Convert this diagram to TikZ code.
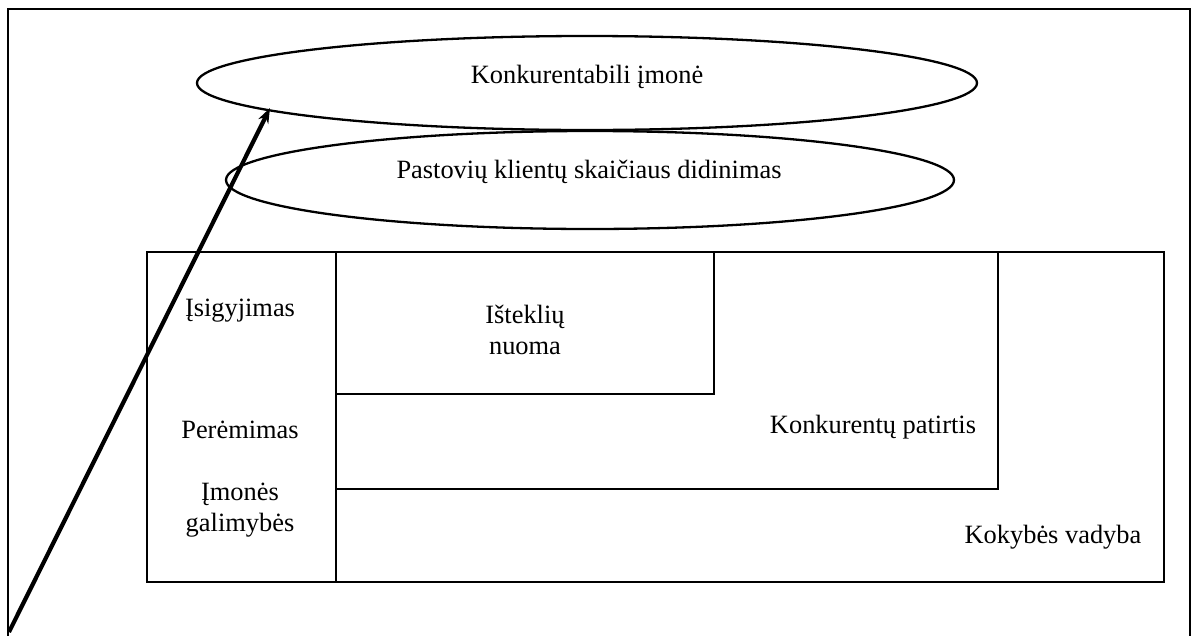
\documentclass[tikz,border=0pt]{standalone}
\usepackage{fontspec}
\setmainfont{Liberation Serif}
\usetikzlibrary{shapes.geometric,arrows.meta}

\tikzset{
  lbl/.style={font=\fontsize{26.4}{31}\selectfont, inner sep=0pt, anchor=base, align=center},
  oval/.style={draw, ellipse, line width=2.3pt, inner sep=0pt},
  panel/.style={draw, line width=2.3pt, inner sep=0pt, anchor=north west},
  frameline/.style={line width=2.6pt},
  pointer/.style={line width=4.2pt, -{Stealth[length=15pt,width=11pt]}}
}

\begin{document}
\begin{tikzpicture}[x=1pt,y=-1pt]
  \useasboundingbox (0,0) rectangle (1191,635);

  % outer frame, open at the bottom edge
  \draw[frameline] (8,640) -- (8,9) -- (1190,9) -- (1190,640);

  % goals
  \node[oval, minimum width=780pt, minimum height=94pt] (goal) at (587,83) {};
  \node[oval, minimum width=728pt, minimum height=98pt] (clients) at (590,180) {};
  \node[lbl] (goalT) at (587,83) {Konkurentabili įmonė};
  \node[lbl] (clientsT) at (589,178) {Pastovių klientų skaičiaus didinimas};

  % nested areas
  \node[panel, minimum width=828pt, minimum height=330pt] (quality) at (335,251) {};
  \node[panel, minimum width=662pt, minimum height=237pt] (rivals) at (335,251) {};
  \node[panel, minimum width=378pt, minimum height=142pt] (lease) at (335,251) {};
  \node[panel, minimum width=189pt, minimum height=330pt] (ways) at (146,251) {};

  % two-line labels sit on the baseline of their last line
  \node[lbl] (leaseT) at (525,354) {Išteklių\\nuoma};
  \node[lbl] (rivalsT) at (873,433) {Konkurentų patirtis};
  \node[lbl] (qualityT) at (1053,543) {Kokybės vadyba};
  \node[lbl] (buyT) at (240,316) {Įsigyjimas};
  \node[lbl] (takeT) at (240,438) {Perėmimas};
  \node[lbl] (capT) at (240,531) {Įmonės\\galimybės};

  % rising arrow
  \coordinate (base) at (9,632);
  \coordinate (tip) at (270,108);
  \draw[pointer] (base) -- (tip);
\end{tikzpicture}
\end{document}
